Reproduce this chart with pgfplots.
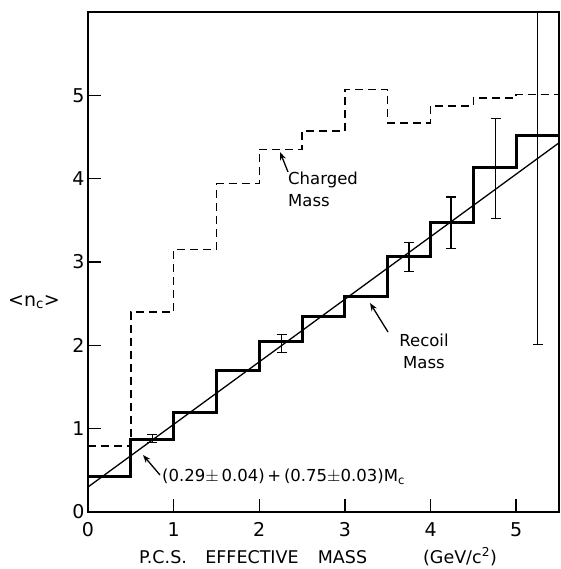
\documentclass[border=0pt]{standalone}
\usepackage{pgfplots}
\pgfplotsset{compat=1.18}
\usetikzlibrary{arrows.meta}
\usepackage{fontspec}
\setmainfont{DejaVu Sans}
\begin{document}
\begin{tikzpicture}
\useasboundingbox (-88pt,-57pt) rectangle (472pt,512pt);
\begin{axis}[
  scale only axis, width=471pt, height=500pt,
  xmin=0, xmax=5.5, ymin=0, ymax=6,
  axis line style={line width=2pt},
  xtick={0,1,2,3,4,5}, ytick={0,1,2,3,4,5},
  xtick pos=bottom, ytick pos=left,
  tick align=inside, major tick length=13pt,
  tick style={line width=1.5pt, black},
  /pgf/number format/assume math mode=true,
  ticklabel style={font=\fontsize{19}{22}\selectfont},
  xticklabel style={yshift=-7pt},
  clip=true,
]
\addplot[black, line width=1.5pt, dash pattern=on 8pt off 5pt, const plot] coordinates {
(0,0.79)(0.5,2.40)(1,3.15)(1.5,3.94)(2,4.35)(2.5,4.57)(3,5.07)(3.5,4.67)(4,4.87)(4.5,4.97)(5,5.01)(5.5,5.01)};
\addplot[black, line width=3pt, const plot] coordinates {
(0,0.43)(0.5,0.87)(1,1.19)(1.5,1.70)(2,2.04)(2.5,2.35)(3,2.59)(3.5,3.07)(4,3.47)(4.5,4.13)(5,4.52)(5.5,4.52)};
\addplot[black, line width=1.3pt] coordinates {(0,0.30)(5.5,4.43)};
\addplot[draw=none, mark=none,
  error bars/.cd, y dir=both, y explicit, error mark=|,
  error bar style={line width=1.3pt, black, solid},
  error mark options={black, line width=1.3pt, mark size=5pt, solid}] coordinates {
(0.75,0.88) +- (0,0.05)
(2.26,2.02) +- (0,0.11)
(3.75,3.06) +- (0,0.17)
(4.24,3.47) +- (0,0.31)
(4.76,4.12) +- (0,0.60)
(5.25,4.52) +- (0,2.51)};
\end{axis}
% annotations (axis at origin, 1pt = 1px; x px -> pt: px-88, y px -> pt: 512-px)
\draw[line width=1.3pt, -{Stealth[length=8pt,width=6pt]}] (200pt,340pt) -- (192pt,360pt);
\node[anchor=north west, align=left, font=\fontsize{16.5}{22}\selectfont, inner sep=0pt] at (200pt,340pt) {Charged\\Mass};
\draw[line width=1.3pt, -{Stealth[length=8pt,width=6pt]}] (300pt,180pt) -- (282pt,209pt);
\node[align=center, font=\fontsize{16.5}{22}\selectfont, inner sep=0pt] at (336pt,161pt) {Recoil\\Mass};
\draw[line width=1.3pt, -{Stealth[length=8pt,width=6pt]}] (72pt,37pt) -- (55pt,57pt);
\node[anchor=west, font=\fontsize{16.5}{20}\selectfont, inner sep=0pt] at (74pt,35pt) {(0.29$\pm$\,0.04)\,+\,(0.75$\pm$0.03)M\textsubscript{c}};
\node[font=\fontsize{19}{22}\selectfont] at (-54pt,210pt) {<n\textsubscript{c}>};
\begin{scope}[every node/.style={font=\fontsize{17.5}{21}\selectfont, inner sep=0pt, anchor=base}]
\node at (75pt,-51pt) {P.C.S.};
\node at (164pt,-51pt) {EFFECTIVE};
\node at (254.5pt,-51pt) {MASS};
\node at (372pt,-51pt) {(GeV/c\textsuperscript{2})};
\end{scope}
\end{tikzpicture}
\end{document}
